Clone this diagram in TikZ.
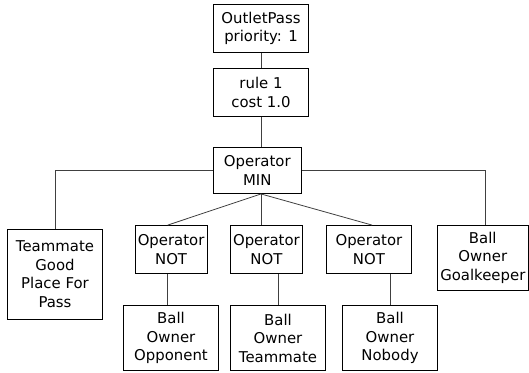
\documentclass[tikz,border=0pt]{standalone}
\usepackage{fontspec}
\setmainfont{DejaVu Sans}
\begin{document}
\begin{tikzpicture}[x=1pt,y=-1pt,
  box/.style={draw=black,line width=0.8pt,inner sep=0pt,align=center,
    font=\fontsize{14.9}{18.5}\selectfont},
  conn/.style={draw=black!75,line width=0.8pt}]
\useasboundingbox (0,0) rectangle (529,372);
\node[box,minimum width=95.5pt,minimum height=48.3pt] (op) at (261,28.2) {OutletPass\\priority: 1};
\node[box,minimum width=95.5pt,minimum height=47.9pt] (rule) at (261,92.2) {rule 1\\cost 1.0};
\node[box,minimum width=88.1pt,minimum height=45.7pt] (min) at (257.3,170.7) {Operator\\MIN};
\node[box,minimum width=95.2pt,minimum height=90.4pt] (tm) at (55,274.1) {Teammate\\Good\\Place For\\Pass};
\node[box,minimum width=72.2pt,minimum height=48pt] (not1) at (171.1,249.5) {Operator\\NOT};
\node[box,minimum width=71.9pt,minimum height=48pt] (not2) at (266.4,249.5) {Operator\\NOT};
\node[box,minimum width=85.4pt,minimum height=48pt] (not3) at (368.9,249.5) {Operator\\NOT};
\node[box,minimum width=91.1pt,minimum height=64.5pt] (gk) at (482.8,257.8) {Ball\\Owner\\Goalkeeper};
\node[box,minimum width=95.1pt,minimum height=65.1pt] (bo1) at (171,338) {Ball\\Owner\\Opponent};
\node[box,minimum width=95.2pt,minimum height=65.1pt] (bo2) at (278,338) {Ball\\Owner\\Teammate};
\node[box,minimum width=95.2pt,minimum height=65.1pt] (bo3) at (390,338) {Ball\\Owner\\Nobody};
\coordinate (mb) at (rule.south |- min.south);
\draw[conn] (op.south) -- (rule.north);
\draw[conn] (rule.south) -- (rule.south |- min.north);
\draw[conn] (min.west) -| (tm.north);
\draw[conn] (min.east) -| ([xshift=3pt]gk.north);
\draw[conn] (mb) -- ([xshift=-3.4pt]not1.north);
\draw[conn] (mb) -- (mb |- not2.north);
\draw[conn] (mb) -- ([xshift=3.2pt]not3.north);
\draw[conn] ([xshift=-3.4pt]not1.south) -- ([xshift=-3.4pt]not1.south |- bo1.north);
\draw[conn] (bo2.north |- not2.south) -- (bo2.north);
\draw[conn] (bo3.north |- not3.south) -- (bo3.north);
\end{tikzpicture}
\end{document}
